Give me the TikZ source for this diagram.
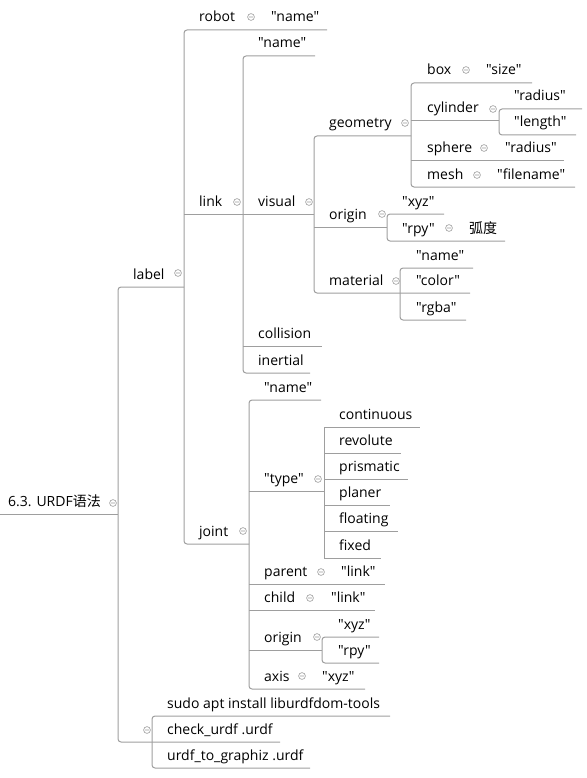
\documentclass[tikz,border=0pt]{standalone}
\usepackage{fontspec}
\setmainfont{Open Sans}[Ligatures=TeXOff]
\newfontfamily\cjk{Noto Sans CJK SC}

\tikzset{
  br/.style={draw=black!38, line width=1pt, rounded corners=3pt},
  topic/.style={anchor=base west, inner sep=0pt, text=black,
                font=\fontsize{14}{16}\selectfont},
  fold/.style={draw=black!40, line width=0.6pt},
}
\newcommand{\foldmark}[2]{%
  \draw[fold] (#1,#2) circle (3.4pt) (#1-1.8,#2) -- (#1+1.8,#2);}

\begin{document}
\begin{tikzpicture}[x=1pt, y=-1pt]
    \useasboundingbox (0,0) rectangle (586,778);

    % Root and first level
    \node[topic] (urdf) at (8,506) {6.3. URDF{\cjk 语法}};
    \node[topic] (label) at (133,279) {label};
    \draw[br] (0,514) -- (118,514);
    \draw[br] (184,287) -- (118,287) -- (118,742) -- (280,742);
    \foldmark{113}{503}
    \foldmark{178}{273}

    % label: robot / link / joint
    \node[topic] (robot) at (199,22) {robot};
    \node[topic] (robotname) at (271,22) {"name"};
    \node[topic] (link) at (199,206) {link};
    \node[topic] (joint) at (199,536) {joint};
    \draw[br] (327,30) -- (184,30) -- (184,544) -- (249,544);
    \draw[br] (184,214) -- (243,214);
    \foldmark{251}{17}
    \foldmark{237}{202}
    \foldmark{243}{531}

    % link
    \node[topic] (linkname) at (258,48) {"name"};
    \node[topic] (visual) at (258,206) {visual};
    \node[topic] (collision) at (258,338) {collision};
    \node[topic] (inertial) at (258,365) {inertial};
    \draw[br] (315,56) -- (243,56) -- (243,373) -- (310,373);
    \draw[br] (243,214) -- (314,214);
    \draw[br] (243,346) -- (322,346);
    \foldmark{309}{202}

    % visual
    \node[topic] (geometry) at (329,128) {geometry};
    \node[topic] (vorigin) at (329,219) {origin};
    \node[topic] (material) at (329,285) {material};
    \draw[br] (411,136) -- (314,136) -- (314,293) -- (470,293);
    \draw[br] (314,227) -- (387,227);
    \foldmark{405}{123}
    \foldmark{382}{214}
    \foldmark{396}{281}

    % geometry
    \node[topic] (box) at (427,75) {box};
    \node[topic] (boxsize) at (486,75) {"size"};
    \node[topic] (cylinder) at (427,113) {cylinder};
    \node[topic] (cylradius) at (514,101) {"radius"};
    \node[topic] (cyllength) at (514,127) {"length"};
    \node[topic] (sphere) at (427,153) {sphere};
    \node[topic] (sphradius) at (505,153) {"radius"};
    \node[topic] (mesh) at (427,179) {mesh};
    \node[topic] (filename) at (497,179) {"filename"};
    \draw[br] (532,83) -- (411,83) -- (411,187) -- (575,187);
    \draw[br] (411,121) -- (499,121);
    \draw[br] (411,161) -- (564,161);
    \draw[br] (582,109) -- (499,109) -- (499,135) -- (576,135);
    \foldmark{466}{70}
    \foldmark{493}{109}
    \foldmark{484}{148}
    \foldmark{477}{175}

    % visual origin / material
    \node[topic] (vxyz) at (402,206) {"xyz"};
    \node[topic] (vrpy) at (402,233) {"rpy"};
    \node[topic] (radian) at (469,233) {\cjk 弧度};
    \node[topic] (matname) at (416,260) {"name"};
    \node[topic] (color) at (416,285) {"color"};
    \node[topic] (rgba) at (416,312) {"rgba"};
    \draw[br] (444,214) -- (387,214) -- (387,241) -- (505,241);
    \draw[br] (473,268) -- (400,268) -- (400,320) -- (466,320);
    \foldmark{449}{228}

    % joint
    \node[topic] (jname) at (264,392) {"name"};
    \node[topic] (jtype) at (264,483) {"type"};
    \node[topic] (parent) at (264,576) {parent};
    \node[topic] (parentlink) at (341,576) {"link"};
    \node[topic] (child) at (264,602) {child};
    \node[topic] (childlink) at (331,602) {"link"};
    \node[topic] (jorigin) at (264,642) {origin};
    \node[topic] (axis) at (264,681) {axis};
    \node[topic] (axisxyz) at (322,681) {"xyz"};
    \draw[br] (321,400) -- (249,400) -- (249,689) -- (365,689);
    \draw[br] (249,491) -- (324,491);
    \draw[br] (249,584) -- (385,584);
    \draw[br] (249,610) -- (375,610);
    \draw[br] (249,650) -- (322,650);
    \foldmark{318}{479}
    \foldmark{321}{572}
    \foldmark{310}{598}
    \foldmark{317}{637}
    \foldmark{302}{676}

    % joint types
    \foreach \t/\b/\e [count=\i] in {continuous/419/420, revolute/445/401,
        prismatic/471/408, planer/497/390, floating/523/398, fixed/550/381} {
        \node[topic] (type\i) at (339,\b) {\t};
        \draw[br] (324,\b+8) -- (\e,\b+8);
    }
    \draw[br] (324,427) -- (324,558);

    % joint origin
    \node[topic] (jxyz) at (338,629) {"xyz"};
    \node[topic] (jrpy) at (338,655) {"rpy"};
    \draw[br] (379,637) -- (322,637) -- (322,663) -- (379,663);

    % tools
    \node[topic] (sudo) at (167,708) {sudo apt install liburdfdom-tools};
    \node[topic] (check) at (167,734) {check\_urdf .urdf};
    \node[topic] (graphiz) at (167,760) {urdf\_to\_graphiz .urdf};
    \draw[br] (390,716) -- (152,716) -- (152,768) -- (310,768);
    \foldmark{147}{730}
\end{tikzpicture}
\end{document}
